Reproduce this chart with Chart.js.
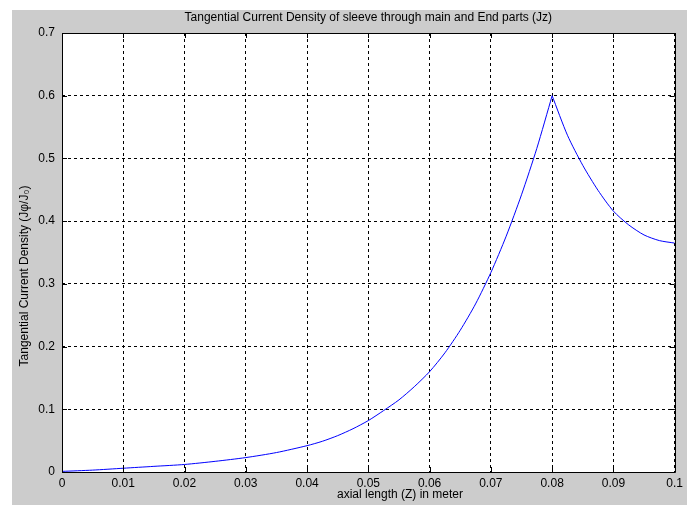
<!DOCTYPE html>
<html>
<head>
<meta charset="utf-8">
<script src="https://cdn.jsdelivr.net/npm/chart.js@4"></script>
<style>
  html, body { margin: 0; padding: 0; background: #fff; }
  #wrap { width: 687px; height: 505px; }
</style>
</head>
<body>
<div id="wrap"><canvas id="chart" width="687" height="505"></canvas></div>
<script>
// axial position (m) and tangential current density (Jphi/J0)
const zValues = [0, 0.005, 0.01, 0.015, 0.02, 0.025, 0.03, 0.035, 0.04, 0.0425, 0.045, 0.0475,
  0.05, 0.0525, 0.055, 0.0575, 0.06, 0.0625, 0.065, 0.0675, 0.07, 0.0725, 0.075, 0.0775, 0.08,
  0.0825, 0.085, 0.0875, 0.09, 0.0925, 0.095, 0.0975, 0.1];
const jValues = [0.001, 0.003, 0.006, 0.009, 0.012, 0.017, 0.023, 0.031, 0.042, 0.049, 0.058, 0.069,
  0.082, 0.098, 0.115, 0.136, 0.16, 0.19, 0.226, 0.268, 0.318, 0.376, 0.442, 0.516, 0.6,
  0.537, 0.489, 0.449, 0.416, 0.394, 0.378, 0.369, 0.365];
const xTicks = [0, 0.01, 0.02, 0.03, 0.04, 0.05, 0.06, 0.07, 0.08, 0.09, 0.1];
const yTicks = [0, 0.1, 0.2, 0.3, 0.4, 0.5, 0.6, 0.7];

const titleText = 'Tangential Current Density of sleeve through main and End parts (Jz)';
const xLabel = 'axial length (Z) in meter';
const yLabel = 'Tangential Current Density (J\u03C6/J\u2080)';

const FONT = '"Liberation Sans", Arial, sans-serif';

// matlab-ish figure: gray panel, boxed axes with inward ticks, text
const figurePlugin = {
  id: 'figure',
  beforeDraw(chart) {
    const ctx = chart.ctx;
    ctx.save();
    ctx.fillStyle = '#fff';
    ctx.fillRect(0, 0, chart.width, chart.height);
    ctx.fillStyle = '#cccccc';
    ctx.fillRect(12, 10, chart.width - 12, chart.height - 10);
    const a = chart.chartArea;
    ctx.fillStyle = '#fff';
    ctx.fillRect(a.left, a.top, a.right - a.left, a.bottom - a.top);
    ctx.restore();
  },
  afterDraw(chart) {
    const ctx = chart.ctx;
    const a = chart.chartArea;
    const xs = chart.scales.x, ys = chart.scales.y;
    ctx.save();
    ctx.strokeStyle = '#000';
    ctx.lineWidth = 1;
    ctx.setLineDash([]);
    ctx.beginPath();
    ctx.rect(Math.round(a.left) + 0.5, Math.round(a.top) + 0.5,
      Math.round(a.right - a.left), Math.round(a.bottom - a.top));
    const tl = 5;
    xTicks.forEach(v => {
      const px = Math.round(xs.getPixelForValue(v)) + 0.5;
      ctx.moveTo(px, a.bottom); ctx.lineTo(px, a.bottom - tl);
      ctx.moveTo(px, a.top); ctx.lineTo(px, a.top + tl);
    });
    yTicks.forEach(v => {
      const py = Math.round(ys.getPixelForValue(v)) + 0.5;
      ctx.moveTo(a.left, py); ctx.lineTo(a.left + tl, py);
      ctx.moveTo(a.right, py); ctx.lineTo(a.right - tl, py);
    });
    ctx.stroke();

    ctx.fillStyle = '#000';
    ctx.font = '12px ' + FONT;
    ctx.textAlign = 'center';
    ctx.textBaseline = 'middle';
    ctx.fillText(titleText, (a.left + a.right) / 2, 18);
    ctx.fillText(xLabel, 400, 495);
    ctx.translate(25, 276);
    ctx.rotate(-Math.PI / 2);
    ctx.fillText(yLabel, 0, 0);
    ctx.restore();
  }
};

const fmt = v => String(Math.round(v * 100) / 100);

// split at the peak so the cusp stays sharp
const peak = jValues.indexOf(Math.max(...jValues));
const toPoints = (from, to) => zValues.slice(from, to).map((z, i) => ({ x: z, y: jValues[from + i] }));
const lineStyle = { borderColor: '#0000ff', borderWidth: 1, pointRadius: 0, tension: 0.25, fill: false };

new Chart(document.getElementById('chart'), {
  type: 'line',
  data: {
    datasets: [
      Object.assign({ data: toPoints(0, peak + 1) }, lineStyle),
      Object.assign({ data: toPoints(peak, zValues.length) }, lineStyle)
    ]
  },
  options: {
    responsive: false,
    animation: false,
    events: [],
    layout: { padding: { top: 33, right: 10, left: 0, bottom: 0 } },
    plugins: {
      legend: { display: false },
      tooltip: { enabled: false },
      title: { display: false }
    },
    scales: {
      x: {
        type: 'linear',
        min: 0,
        max: 0.1,
        afterFit: s => { s.height = 33; },
        afterBuildTicks: s => { s.ticks = xTicks.map(v => ({ value: v })); },
        ticks: {
          callback: fmt,
          color: '#000',
          font: { family: FONT, size: 12 },
          padding: 4,
          maxRotation: 0,
          autoSkip: false
        },
        grid: { color: '#000', lineWidth: 1, drawTicks: false },
        border: { display: false, dash: [3, 3] }
      },
      y: {
        type: 'linear',
        min: 0,
        max: 0.7,
        afterFit: s => { s.width = 62; },
        afterBuildTicks: s => { s.ticks = yTicks.map(v => ({ value: v })); },
        ticks: {
          callback: fmt,
          color: '#000',
          font: { family: FONT, size: 12 },
          padding: 7,
          autoSkip: false
        },
        grid: { color: '#000', lineWidth: 1, drawTicks: false },
        border: { display: false, dash: [3, 3] }
      }
    }
  },
  plugins: [figurePlugin]
});
</script>
</body>
</html>
